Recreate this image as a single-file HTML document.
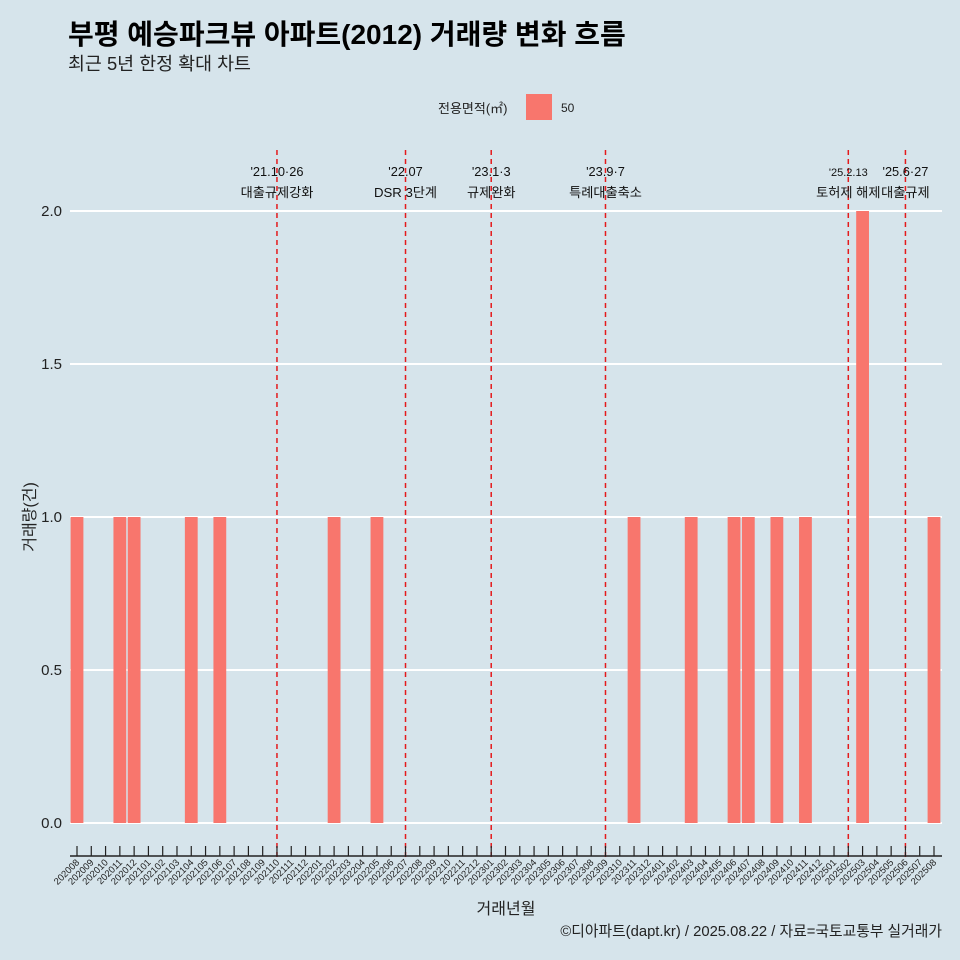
<!DOCTYPE html>
<html><head><meta charset="utf-8"><style>
html,body{margin:0;padding:0;overflow:hidden;background:#d6e4eb;font-family:"Liberation Sans","Noto Sans CJK KR",sans-serif}
svg{display:block}
svg text{font-family:"Liberation Sans","Noto Sans CJK KR",sans-serif}
</style></head><body>
<svg id="c" width="960" height="960" xmlns="http://www.w3.org/2000/svg">
<rect width="960" height="960" fill="#d6e4eb"/>
<text x="68" y="44" font-size="28" font-weight="bold" fill="#000">부평 예승파크뷰 아파트(2012) 거래량 변화 흐름</text>
<text x="68" y="70" font-size="18.4" fill="#222">최근 5년 한정 확대 차트</text>
<g>
<text x="438" y="113" font-size="13" fill="#222">전용면적(㎡)</text>
<rect x="526" y="94" width="26" height="26" fill="#f8766d"/>
<text x="561" y="112" font-size="12" fill="#222">50</text>
</g>
<text x="942" y="936" font-size="14.8" text-anchor="end" fill="#222">©디아파트(dapt.kr) / 2025.08.22 / 자료=국토교통부 실거래가</text>
<text x="506" y="914" font-size="16" text-anchor="middle" fill="#222">거래년월</text>
<text transform="translate(35,517) rotate(-90)" font-size="16" text-anchor="middle" fill="#222">거래량(건)</text>
<g id="plot"></g>
</svg>
<script>
const categories=[];for(let y=2020;y<=2025;y++)for(let m=1;m<=12;m++){const k=y*100+m;if(k>=202008&&k<=202508)categories.push(String(k));}
const saleMonths=["202008","202011","202012","202104","202106","202202","202205","202311","202403","202406","202407","202409","202411","202503","202508"];
const saleCounts=[1,1,1,1,1,1,1,1,1,1,1,1,1,2,1];
const yTicks=[0,0.5,1,1.5,2];
const yTickLabels=["0.0","0.5","1.0","1.5","2.0"];
const eventMonths=["202110","202207","202301","202309","202502","202506"];
const eventDates=["'21.10·26","'22.07","'23.1·3","'23.9·7","'25.2.13","'25.6·27"];
const eventLabels=["대출규제강화","DSR 3단계","규제완화","특례대출축소","토허제 해제","대출규제"];
const NS="http://www.w3.org/2000/svg";
const g=document.getElementById('plot');
const x0=77,dx=(934-77)/(categories.length-1);
const X=c=>x0+categories.indexOf(c)*dx;
const Y=v=>823-v*306;
function mk(t,a,p){const e=document.createElementNS(NS,t);for(const k in a)e.setAttribute(k,a[k]);(p||g).appendChild(e);return e;}
yTicks.forEach((v,i)=>{
 const l=mk('line',{x1:70,x2:942,y1:Y(v),y2:Y(v),stroke:'#fff','stroke-width':2});
 
 
 const t=mk('text',{x:62,y:Y(v)+5,'font-size':15,'text-anchor':'end',fill:'#222'});t.textContent=yTickLabels[i];
 
 
});
saleMonths.forEach((c,i)=>{
 const b=mk('rect',{x:X(c)-6.4,y:Y(saleCounts[i]),width:12.8,height:Y(0)-Y(saleCounts[i]),fill:'#f8766d'});
 
 
});
eventMonths.forEach((c,i)=>{
 const x=X(c);
 const l=mk('line',{x1:x,x2:x,y1:150,y2:857,stroke:'#e41a1c','stroke-width':1.5,'stroke-dasharray':'5,4'});
 
 
 const small=c==="202502";
 const t1=mk('text',{x:x,y:176,'font-size':small?11:12.8,'text-anchor':'middle',fill:'#111'});t1.textContent=eventDates[i];
 
 
 const t2=mk('text',{x:x,y:197,'font-size':13.2,'text-anchor':'middle',fill:'#111'});t2.textContent=eventLabels[i];
 
 
});
const ax=mk('line',{x1:70,x2:942,y1:856,y2:856,stroke:'#222','stroke-width':1.5});


categories.forEach(c=>{
 const x=X(c);
 const tk=mk('line',{x1:x,x2:x,y1:846,y2:856,stroke:'#222','stroke-width':1.2});
 
 
 const t=mk('text',{transform:`translate(${x+3},${863}) rotate(-45)`,'font-size':9.5,'text-anchor':'end',fill:'#222'});t.textContent=c;
 
 
});
</script>
</body></html>
